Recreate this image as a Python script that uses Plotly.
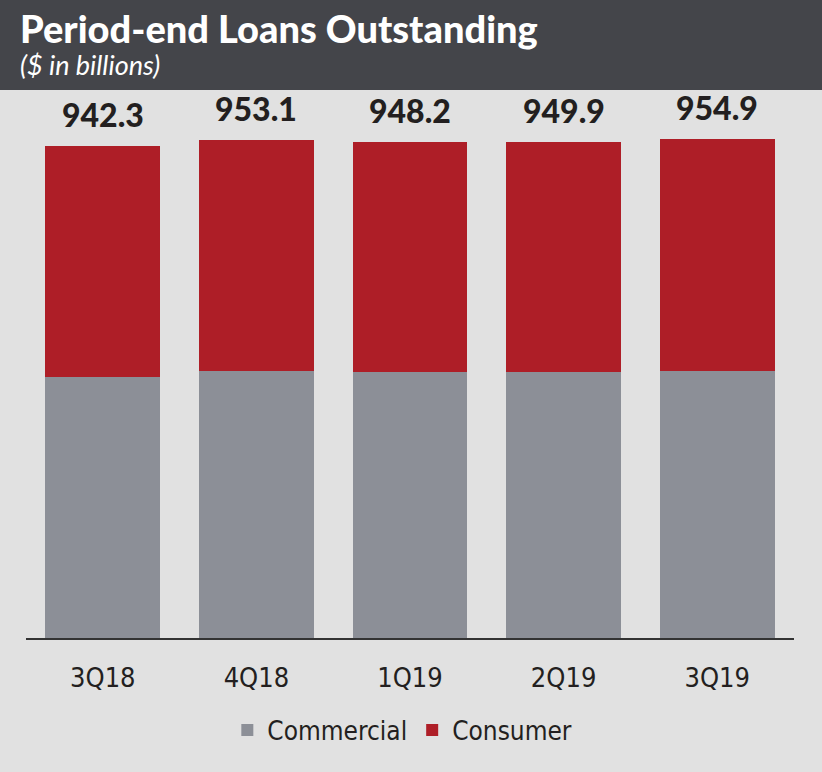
import plotly.graph_objects as go

quarters = ["3Q18", "4Q18", "1Q19", "2Q19", "3Q19"]
totals = [942.3, 953.1, 948.2, 949.9, 954.9]
commercial = [500.0, 511.5, 509.5, 509.8, 510.0]
consumer = [round(t - c, 1) for t, c in zip(totals, commercial)]
total_labels = ["942.3", "953.1", "948.2", "949.9", "954.9"]

W, H = 822, 772
L, R, T, B = 26, 28, 95, 134
PH = H - T - B  # plot height in px
PW = W - L - R


def py(px):
    """pixel y from top -> paper y"""
    return (H - B - px) / PH


def px_(x):
    return (x - L) / PW


GRAY = "#8c8f97"
RED = "#ae1e27"
BG = "#e1e1e1"
HEADER = "#44454a"
COND = "Liberation Sans Narrow, DejaVu Sans Condensed, Roboto Condensed, Noto Sans, sans-serif"

fig = go.Figure()
fig.add_trace(go.Bar(x=quarters, y=commercial, name="Commercial",
                     marker=dict(color=GRAY, line=dict(width=0)),
                     hoverinfo="skip"))
fig.add_trace(go.Bar(x=quarters, y=consumer, name="Consumer",
                     marker=dict(color=RED, line=dict(width=0)),
                     hoverinfo="skip"))

for q, t, lab in zip(quarters, totals, total_labels):
    fig.add_annotation(x=q, y=t, text=lab, showarrow=False,
                       yanchor="bottom", yshift=10,
                       font=dict(family="Lato, Open Sans, sans-serif", size=32,
                                 color="#231f20", weight=900))

# header band
fig.add_shape(type="rect", xref="paper", yref="paper",
              x0=-0.1, x1=1.1, y0=py(90), y1=py(-20),
              fillcolor=HEADER, line=dict(width=0), layer="below")

fig.add_annotation(xref="paper", yref="paper", x=px_(18), y=py(28),
                   xanchor="left", yanchor="middle", showarrow=False,
                   text="Period-end Loans Outstanding",
                   font=dict(family="Lato, Open Sans, sans-serif", size=38,
                             color="white", weight=900))
fig.add_annotation(xref="paper", yref="paper", x=px_(18), y=py(64),
                   xanchor="left", yanchor="middle", showarrow=False,
                   text="<i>($ in billions)</i>",
                   font=dict(family="Lato, Open Sans, sans-serif", size=27, color="white"))

fig.update_layout(
    width=W, height=H,
    margin=dict(l=L, r=R, t=T, b=B),
    paper_bgcolor=BG, plot_bgcolor=BG,
    barmode="stack", bargap=0.252,
    showlegend=True,
    legend=dict(orientation="h", traceorder="normal", x=0.49, xanchor="center",
                y=py(730), yanchor="middle",
                font=dict(family=COND, size=26, color="#231f20"),
                bgcolor="rgba(0,0,0,0)", itemclick=False, itemdoubleclick=False),
    xaxis=dict(showline=True, linecolor="#333333", linewidth=1.5, ticks="",
               showgrid=False, zeroline=False, ticklabelstandoff=15,
               tickfont=dict(family=COND, size=27, color="#231f20"),
               fixedrange=True),
    yaxis=dict(range=[0, 1039], visible=False, showgrid=False, fixedrange=True),
)

fig.write_html("out.html", config={"displayModeBar": False},
               post_script="document.body.style.margin='0';document.body.style.background='%s';" % BG)
